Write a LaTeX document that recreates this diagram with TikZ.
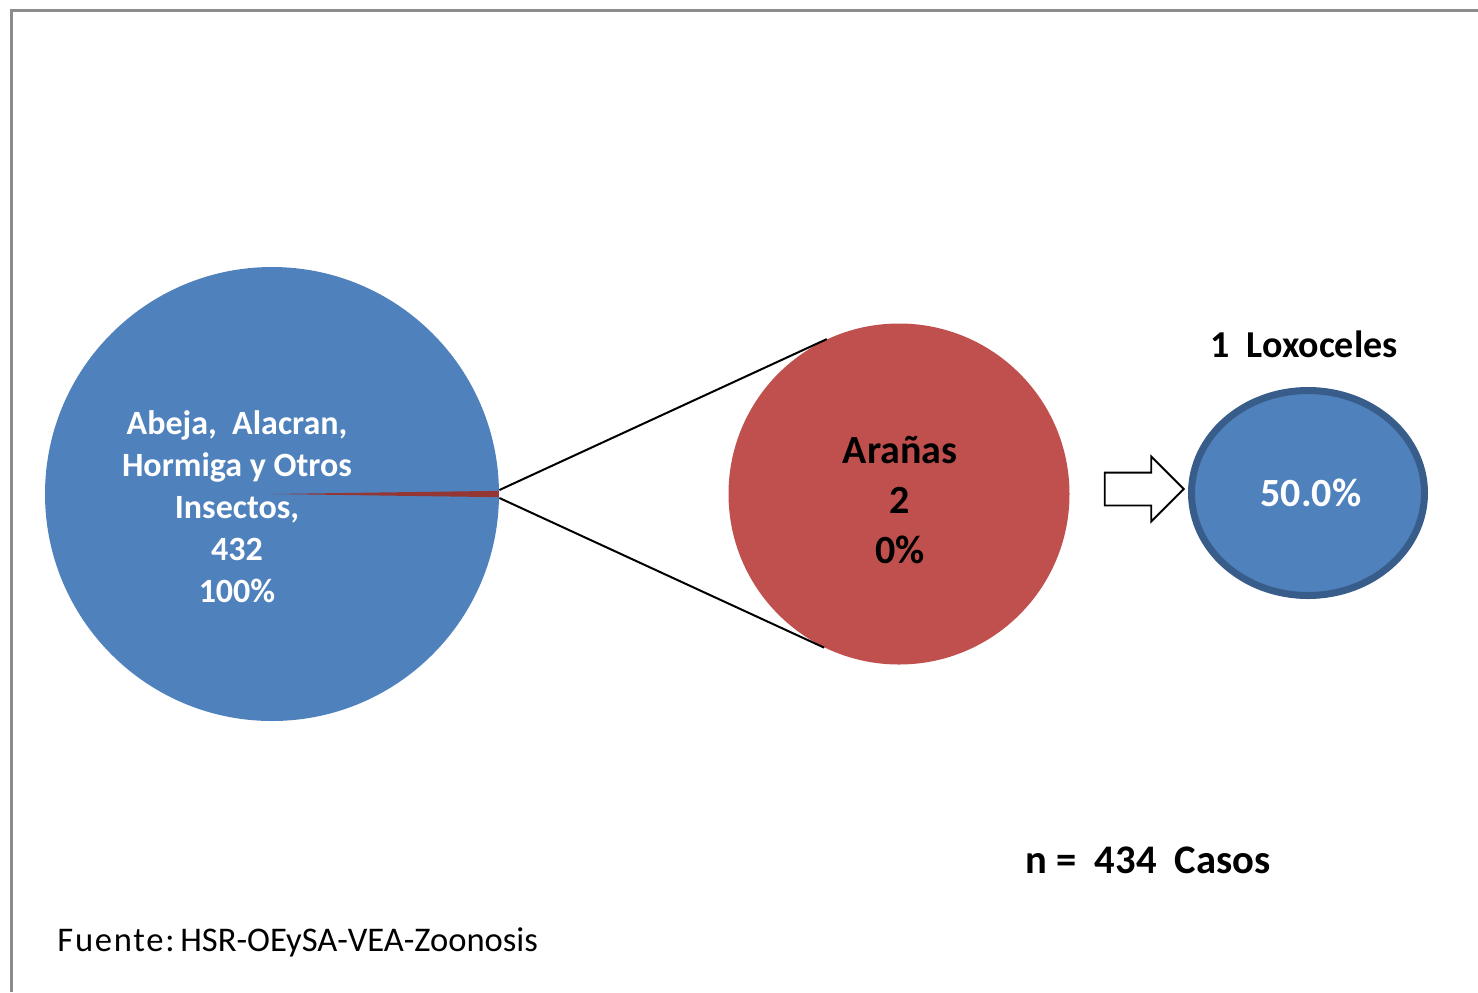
\documentclass[tikz,border=0pt]{standalone}
\usepackage{fontspec}
\setmainfont{Carlito}
\usetikzlibrary{shapes.geometric,shapes.arrows}
\definecolor{pieblue}{HTML}{4F81BD}
\definecolor{piered}{HTML}{C0504D}
\definecolor{sliverred}{HTML}{943634}
\definecolor{loxoborder}{HTML}{385D8A}
\definecolor{framegray}{HTML}{8C8C8C}
\begin{document}
\begin{tikzpicture}[x=0.5pt,y=-0.5pt,
    lbl/.style={font=\bfseries, align=center, inner sep=0pt}]
      \useasboundingbox (0,0) rectangle (1478,992);
      \draw[framegray, line width=1.5pt] (11,992) -- (11,10) -- (1478,10);
      \draw
        (272,494) node[circle, fill=pieblue, minimum size=227pt, inner sep=0pt] (pie){}
        (899,494) node[circle, fill=piered, minimum size=170.5pt, inner sep=0pt] (aranas){}
        (1308,493) node[ellipse, draw=loxoborder, line width=3.5pt, fill=pieblue,
          minimum width=116.5pt, minimum height=102.5pt, inner sep=0pt] (loxo){}
        (1185,489) node[single arrow, draw, line width=0.9pt, fill=white, anchor=tip,
          minimum height=39.5pt, minimum width=0pt, single arrow head extend=8pt,
          single arrow tip angle=90, inner xsep=0pt, inner ysep=7.75pt] (flecha){};
      \fill[sliverred] (pie.center) -- ++(-0.8:227)
        arc[start angle=-0.8, end angle=0.8, radius=227] -- cycle;
      \begin{scope}[-, line width=1pt]
        \draw (pie.1) to (aranas.115);
        \draw (pie.-1) to (aranas.-116);
      \end{scope}
      \node[lbl, text=white, font=\bfseries\fontsize{17}{21}\selectfont] (pielbl) at (237,507)
        {Abeja,~ Alacran,\\Hormiga y Otros\\Insectos,\\432\\100\%};
      \node[lbl, font=\bfseries\fontsize{20}{25}\selectfont] (aranaslbl) at (900,500)
        {Arañas\\2\\0\%};
      \node[lbl, text=white, font=\bfseries\fontsize{20}{24}\selectfont] (loxolbl) at (1311,493)
        {50.0\%};
      \node[lbl, font=\bfseries\fontsize{19}{22}\selectfont] (loxotitle) at (1304,344)
        {1~ Loxoceles};
      \node[lbl, font=\bfseries\fontsize{20.3}{24}\selectfont] (casos) at (1148,860)
        {n =~ 434~ Casos};
      \node[lbl, anchor=west, font=\fontsize{17.3}{20}\selectfont] (fuente) at (57,942)
        {{\addfontfeatures{LetterSpace=5}Fuente:}\,HSR-OEySA-VEA-Zoonosis};
\end{tikzpicture}
\end{document}
